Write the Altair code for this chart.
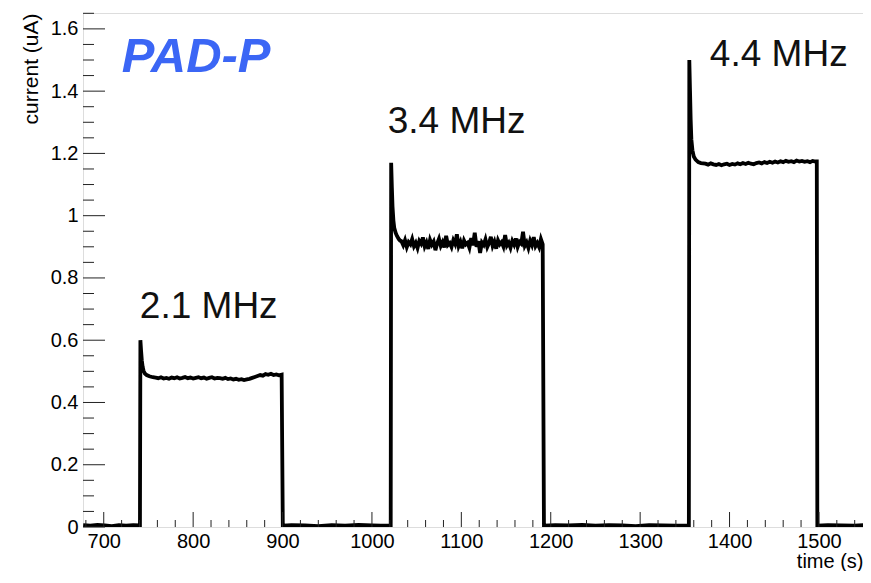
import altair as alt
import pandas as pd

# ---------------- data ----------------
# baseline segments (beam off)
base1_time = [677, 685, 693, 701, 709, 717, 725, 733, 740.5]
base1_cur = [0.006, 0.004, 0.007, 0.005, 0.003, 0.006, 0.004, 0.006, 0.005]

# 2.1 MHz pulse: spike + decay, then plateau sampled every 3 s from 758 s
p1_rise_time = [741.0, 741.8, 742.6, 743.5, 744.5, 746, 748, 751, 755]
p1_rise_cur = [0.600, 0.565, 0.535, 0.515, 0.502, 0.493, 0.488, 0.484, 0.481]
p1_plateau_start, p1_step = 758, 3
p1_plateau = [0.480, 0.478, 0.481, 0.477, 0.479, 0.476, 0.480, 0.478, 0.481, 0.477,
              0.479, 0.482, 0.478, 0.480, 0.477, 0.479, 0.481, 0.478, 0.480, 0.476,
              0.479, 0.481, 0.477, 0.479, 0.478, 0.476, 0.479, 0.475, 0.477, 0.474,
              0.476, 0.473, 0.475, 0.472, 0.474, 0.476, 0.479, 0.482, 0.485, 0.488,
              0.486, 0.491, 0.489, 0.492, 0.488, 0.490, 0.487, 0.489]

base2_time = [900.3, 910, 925, 940, 955, 970, 985, 1000, 1010, 1021]
base2_cur = [0.004, 0.006, 0.005, 0.003, 0.006, 0.004, 0.007, 0.005, 0.004, 0.005]

# 3.4 MHz pulse: spike + decay, then noisy plateau sampled every 2 s from 1033 s
p2_rise_time = [1021.5, 1022.3, 1023.0, 1024.0, 1025.0, 1026.5, 1028.0, 1030.0, 1031.5]
p2_rise_cur = [1.170, 1.090, 1.030, 0.985, 0.960, 0.945, 0.935, 0.925, 0.920]
p2_plateau_start, p2_step = 1033, 2
p2_plateau = [0.918, 0.905, 0.921, 0.899, 0.915, 0.908, 0.925, 0.902, 0.913, 0.896,
              0.919, 0.910, 0.930, 0.901, 0.914, 0.893, 0.922, 0.907, 0.917, 0.889,
              0.911, 0.926, 0.903, 0.915, 0.898, 0.935, 0.906, 0.912, 0.899, 0.921,
              0.909, 0.940, 0.902, 0.916, 0.895, 0.920, 0.908, 0.913, 0.897, 0.928,
              0.905, 0.945, 0.900, 0.918, 0.880, 0.914, 0.906, 0.924, 0.899, 0.912,
              0.932, 0.903, 0.917, 0.894, 0.921, 0.908, 0.915, 0.901, 0.938, 0.904,
              0.913, 0.897, 0.919, 0.907, 0.927, 0.900, 0.916, 0.910, 0.948, 0.903,
              0.914, 0.896, 0.920, 0.906, 0.931, 0.902, 0.912, 0.899, 0.925, 0.908]

base3_time = [1192.4, 1205, 1220, 1235, 1250, 1265, 1280, 1295, 1310, 1325, 1340, 1354.5]
base3_cur = [0.004, 0.006, 0.005, 0.007, 0.004, 0.006, 0.005, 0.003, 0.006, 0.005, 0.004, 0.005]

# 4.4 MHz pulse: spike + decay, then plateau sampled every 3 s from 1373 s
p3_rise_time = [1355.0, 1355.8, 1356.5, 1357.3, 1358.5, 1360, 1362, 1365, 1368, 1370.5]
p3_rise_cur = [1.500, 1.400, 1.310, 1.245, 1.210, 1.190, 1.180, 1.172, 1.169, 1.168]
p3_plateau_start, p3_step = 1373, 3
p3_plateau = [1.167, 1.164, 1.168, 1.165, 1.163, 1.166, 1.162, 1.165, 1.167, 1.163,
              1.166, 1.164, 1.168, 1.165, 1.169, 1.166, 1.170, 1.167, 1.165, 1.169,
              1.171, 1.168, 1.172, 1.169, 1.173, 1.170, 1.174, 1.171, 1.175, 1.172,
              1.176, 1.173, 1.175, 1.172, 1.177, 1.174, 1.176, 1.173, 1.175, 1.172,
              1.176, 1.174]
p3_end_time = [1497.6]
p3_end_cur = [1.174]

base4_time = [1498.2, 1510, 1525, 1540, 1552]
base4_cur = [0.004, 0.006, 0.005, 0.004, 0.006]

# axis ticks
x_major = [700, 800, 900, 1000, 1100, 1200, 1300, 1400, 1500]
x_minor = [t for t in range(680, 1551, 20) if t % 100 != 0]
y_major = [0, 0.2, 0.4, 0.6, 0.8, 1.0, 1.2, 1.4, 1.6]
y_minor = [0.05, 0.1, 0.15, 0.25, 0.3, 0.35, 0.45, 0.5, 0.55, 0.65, 0.7, 0.75,
           0.85, 0.9, 0.95, 1.05, 1.1, 1.15, 1.25, 1.3, 1.35, 1.45, 1.5, 1.55, 1.65]

# annotations
labels = ["2.1 MHz", "3.4 MHz", "4.4 MHz"]
label_time = [740.4, 1017.6, 1378.0]
label_cur = [0.672, 1.264, 1.482]

# ---------------- build the table ----------------
def grid(start, step, vals):
    return [start + i * step for i in range(len(vals))]

times = (base1_time + p1_rise_time + grid(p1_plateau_start, p1_step, p1_plateau)
         + base2_time + p2_rise_time + grid(p2_plateau_start, p2_step, p2_plateau)
         + base3_time + p3_rise_time + grid(p3_plateau_start, p3_step, p3_plateau)
         + p3_end_time + base4_time)
vals = (base1_cur + p1_rise_cur + p1_plateau
        + base2_cur + p2_rise_cur + p2_plateau
        + base3_cur + p3_rise_cur + p3_plateau
        + p3_end_cur + base4_cur)

df = pd.DataFrame({"time": times, "current": vals, "idx": range(len(times))})

W, H = 780, 514
FONT = "Liberation Sans"
xs = alt.Scale(domain=[676.8, 676.8 + W / 0.894], nice=False, zero=False)
ys = alt.Scale(domain=[0, 1.651], nice=False, zero=False)

x_axis = alt.Axis(values=x_major, format="d", ticks=False, domain=False, grid=False,
                  labelFontSize=20, labelFont=FONT, labelColor="black",
                  labelPadding=4, title="time (s)", titleFont=FONT,
                  titleFontSize=20, titleFontWeight="normal", titleColor="black",
                  titleAlign="right", titleAnchor="end", titleX=W, titleY=40,
                  titleBaseline="alphabetic")
y_axis = alt.Axis(values=y_major, format="~g", ticks=False, domain=False, grid=False,
                  labelFontSize=20, labelFont=FONT, labelColor="black",
                  labelPadding=5, title="current (uA)", titleFont=FONT,
                  titleFontSize=21, titleFontWeight="normal", titleColor="black",
                  titleAngle=-90, titleAlign="right", titleX=-52, titleY=0,
                  titleBaseline="middle")

line = alt.Chart(df).mark_line(color="black", strokeWidth=3.8, clip=True).encode(
    x=alt.X("time:Q", scale=xs, axis=x_axis, title="time (s)"),
    y=alt.Y("current:Q", scale=ys, axis=y_axis, title="current (uA)"),
    order="idx:Q",
)

def xticks(vals_, length):
    return alt.Chart(pd.DataFrame({"time": vals_})).mark_rule(color="#222", strokeWidth=1).encode(
        x=alt.X("time:Q", scale=xs, axis=x_axis, title="time (s)"),
        y=alt.value(H), y2=alt.value(H - length))

def yticks(vals_, length):
    return alt.Chart(pd.DataFrame({"current": vals_})).mark_rule(color="#222", strokeWidth=1).encode(
        y=alt.Y("current:Q", scale=ys, axis=y_axis, title="current (uA)"),
        x=alt.value(0), x2=alt.value(length))

ann = alt.Chart(pd.DataFrame({"time": label_time, "current": label_cur, "label": labels})).mark_text(
    align="left", baseline="alphabetic", font=FONT, fontSize=37, color="#111"
).encode(x=alt.X("time:Q", scale=xs, axis=x_axis, title="time (s)"),
         y=alt.Y("current:Q", scale=ys, axis=y_axis, title="current (uA)"),
         text="label:N")

pad = alt.Chart(pd.DataFrame({"time": [720.1], "current": [1.460], "label": ["PAD-P"]})).mark_text(
    align="left", baseline="alphabetic", font=FONT, fontSize=49, fontWeight="bold",
    fontStyle="italic", color="#3b66f5"
).encode(x=alt.X("time:Q", scale=xs, axis=x_axis, title="time (s)"),
         y=alt.Y("current:Q", scale=ys, axis=y_axis, title="current (uA)"),
         text="label:N")

chart = alt.layer(
    line, xticks(x_minor, 7), xticks(x_major, 15), yticks(y_minor, 11), yticks(y_major, 22),
    ann, pad
).properties(
    width=W, height=H,
    autosize=alt.AutoSizeParams(type="none"),
    padding={"left": 75, "top": 5, "right": 0, "bottom": 44},
).configure_view(stroke="black", strokeWidth=1.2).configure(background="white")

chart.save("out.html", embed_options={"renderer": "svg", "actions": False})
